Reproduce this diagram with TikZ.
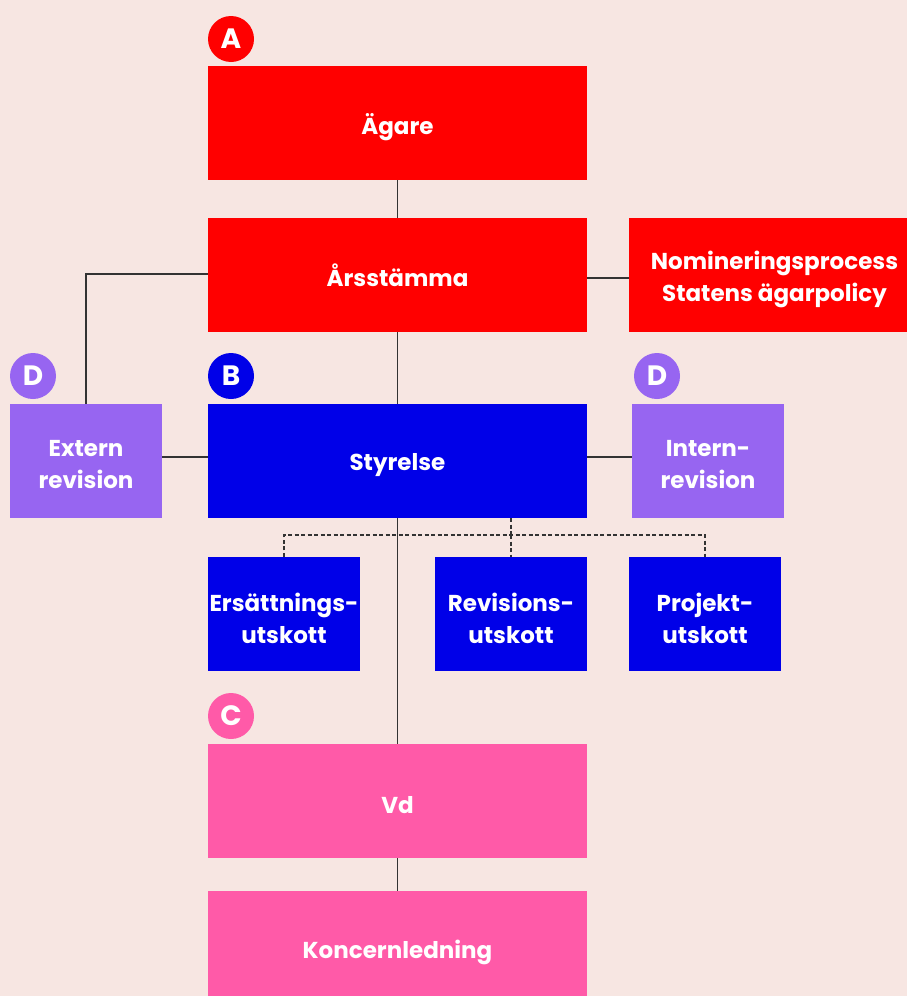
\documentclass[tikz,border=0pt]{standalone}
\usepackage{fontspec}
\setmainfont{Poppins}
\definecolor{bg}{HTML}{F7E6E2}
\definecolor{cred}{HTML}{FF0000}
\definecolor{cblue}{HTML}{0000E8}
\definecolor{cpurple}{HTML}{9765F1}
\definecolor{cpink}{HTML}{FF5AA8}
\definecolor{cline}{HTML}{333333}
\tikzset{
  box/.style={rectangle, inner sep=0pt},
  lbltext/.style={inner sep=0pt, text=white, font=\fontsize{23}{32}\selectfont\bfseries, align=center, yshift=-4pt},
  bigbox/.style={box, minimum width=379pt, minimum height=114pt},
  smallbox/.style={box, minimum width=152pt, minimum height=114pt},
  badge/.style={circle, inner sep=0pt, minimum size=46pt, text=white, font=\fontsize{28}{28}\selectfont\bfseries},
  conn/.style={draw=cline, line width=1.3pt},
  dconn/.style={draw=cline, line width=1.1pt, dash pattern=on 4pt off 2.5pt}
}
\begin{document}
\begin{tikzpicture}[x=1pt,y=-1pt]
\fill[bg] (0,0) rectangle (907,996);
\useasboundingbox (0,0) rectangle (907,996);

% boxes
\node[bigbox, fill=cred, label={[lbltext]center:Ägare}] (agare) at (397.5,123) {};
\node[bigbox, fill=cred, label={[lbltext, yshift=4pt]center:Årsstämma}] (arss) at (397.5,275) {};
\node[box, fill=cred, minimum width=291pt, minimum height=114pt, label={[lbltext]center:Nomineringsprocess\\Statens ägarpolicy}] (nom) at (774.5,275) {};
\node[bigbox, fill=cblue, label={[lbltext]center:Styrelse}] (styr) at (397.5,461) {};
\node[smallbox, fill=cpurple, label={[lbltext]center:Extern\\revision}] (ext) at (86,461) {};
\node[smallbox, fill=cpurple, label={[lbltext]center:Intern-\\revision}] (int) at (708,461) {};
\node[smallbox, fill=cblue, label={[lbltext]center:Ersättnings-\\utskott}] (ers) at (284,614) {};
\node[smallbox, fill=cblue, label={[lbltext]center:Revisions-\\utskott}] (rev) at (511,614) {};
\node[smallbox, fill=cblue, label={[lbltext]center:Projekt-\\utskott}] (proj) at (705,614) {};
\node[bigbox, fill=cpink, label={[lbltext]center:Vd}] (vd) at (397.5,801) {};
\node[bigbox, fill=cpink, label={[lbltext]center:Koncernledning}] (kon) at (397.5,948) {};

% badges
\node[badge, fill=cred] (ba) at (231,39) {A};
\node[badge, fill=cblue] (bb) at (231,376) {B};
\node[badge, fill=cpink] (bc) at (231,716) {C};
\node[badge, fill=cpurple] (bd1) at (33,376) {D};
\node[badge, fill=cpurple] (bd2) at (657,376) {D};

% connectors
\coordinate (arL) at (208,274);
\coordinate (arR) at (587,278);
\coordinate (dsplit) at (511,535);
\draw[conn] (agare.south) -- (arss.north);
\draw[conn] (arss.south) -- (styr.north);
\draw[conn] (arL) -| (ext.north);
\draw[conn] (arR) -- (nom.west |- arR);
\draw[conn] ([yshift=4pt]ext.east) -- ([yshift=4pt]styr.west);
\draw[conn] ([yshift=4pt]styr.east) -- ([yshift=4pt]int.west);
\draw[conn] (styr.south) -- (vd.north);
\draw[conn] (vd.south) -- (kon.north);
\draw[dconn] (styr.south -| dsplit) -- (dsplit);
\draw[dconn] (ers.north) |- (dsplit) -| (proj.north);
\draw[dconn] (dsplit) -- (rev.north);
\end{tikzpicture}
\end{document}
